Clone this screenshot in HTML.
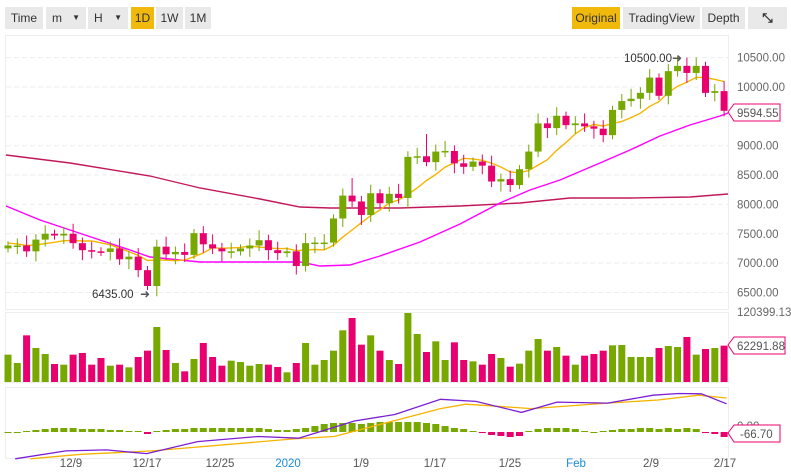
<!DOCTYPE html>
<html><head><meta charset="utf-8"><style>
body{margin:0;background:#fff;font-family:"Liberation Sans",sans-serif;}
#w{position:relative;width:791px;height:475px;overflow:hidden;background:#fff}
.b{position:absolute;top:7px;height:22px;line-height:22px;background:#e9e9e9;color:#333;font-size:12px;text-align:center}
.y{background:#f0b90b}
</style></head><body><div id="w">
<div class="b" style="left:5px;width:38px">Time</div>
<div class="b" style="left:46px;width:40px;text-align:left;padding-left:6px;box-sizing:border-box">m<span style="position:absolute;right:6px;font-size:8px">▼</span></div>
<div class="b" style="left:88px;width:40px;text-align:left;padding-left:6px;box-sizing:border-box">H<span style="position:absolute;right:6px;font-size:8px">▼</span></div>
<div class="b y" style="left:131px;width:23px">1D</div>
<div class="b" style="left:156px;width:27px">1W</div>
<div class="b" style="left:185px;width:26px">1M</div>
<div class="b y" style="left:572px;width:48px">Original</div>
<div class="b" style="left:623px;width:77px">TradingView</div>
<div class="b" style="left:702px;width:43px">Depth</div>
<div class="b" style="left:748px;width:39px;font-weight:bold;font-size:13px">⤡</div>
<svg id="s" width="791" height="475" style="position:absolute;left:0;top:0"></svg>
</div>
<script>
var C=[7300,7300,7200,7400,7500,7470,7500,7340,7220,7200,7190,7250,7065,7110,6880,6610,7280,7150,7190,7140,7510,7320,7250,7200,7200,7250,7300,7390,7220,7170,7200,6950,7340,7350,7350,7760,8150,8050,7820,8190,8020,8180,8110,8810,8820,8720,8900,8910,8700,8640,8730,8660,8390,8430,8330,8600,8900,9380,9300,9510,9350,9380,9330,9290,9180,9610,9760,9800,9900,10160,9850,10270,10360,10240,10360,9900,9930,9594];
var V=[130,155,72,110,128,158,160,130,125,160,140,163,160,168,137,118,47,116,155,180,143,95,137,163,148,152,163,158,160,167,183,155,95,160,146,118,57,20,100,72,118,146,158,5,68,122,90,146,93,146,150,160,128,140,166,157,118,83,118,107,133,160,133,128,118,102,101,137,137,137,110,104,107,77,130,113,110,103];
var H=[0,0,1,2,3,4,4,4,3,3,3,2,2,1,1,-2,1,2,3,3,4,4,4,4,4,4,4,4,3,2,2,3,4,6,8,9,9,9,8,9,10,10,10,10,10,9,8,6,4,3,1,-1,-3,-4,-5,-4,1,3,4,4,4,3,1,0,1,2,3,3,4,4,3,4,3,4,3,-1,-2,-5];
var G='#76a800',R='#e8006f',s='';
function Y(p){return 87+(10000-p)*0.0587}
function X(i){return 8+i*9.3}
// frames
s+='<rect x="5.5" y="35.5" width="723" height="274" fill="none" stroke="#eee"/>';
s+='<rect x="5.5" y="312.5" width="723" height="70" fill="none" stroke="#eee"/>';
s+='<rect x="5.5" y="387.5" width="723" height="71" fill="none" stroke="#eee"/>';
[10500,10000,9500,9000,8500,8000,7500,7000,6500].forEach(function(p){var y=Y(p);s+='<line x1="6" x2="728" y1="'+y+'" y2="'+y+'" stroke="#eee" stroke-dasharray="5,3"/>';if(p!=9500)s+='<text x="737" y="'+(y+4)+'" font-size="11.5" fill="#666">'+p.toFixed(2)+'</text>';});
// MA99
s+='<polyline fill="none" stroke="#c2185b" stroke-width="1.4" points="6,155 70,163 150,176 200,188 260,199 300,207 330,208 400,208 460,206 520,203 570,198 630,198 690,197 728,194"/>';
// MA30
s+='<polyline fill="none" stroke="#f0f" stroke-width="1.4" points="6,206 40,220 70,230 100,240 130,250 150,257 200,262 300,262 320,266 350,265 380,256 420,242 460,224 500,203 530,190 560,180 600,163 630,150 660,136 690,125 720,116 728,113"/>';
// MA7
var pts=[],pad=[7400,7380,7350,7330,7320,7310].concat(C);
for(var i=0;i<C.length;i++){var a=0;for(var k=0;k<7;k++)a+=pad[i+k];pts.push(X(i)+','+Y(a/7).toFixed(1));}
s+='<polyline fill="none" stroke="#f5b400" stroke-width="1.4" points="'+pts.join(' ')+'"/>';
// candles
for(var i=0;i<C.length;i++){var o=i?C[i-1]:7250,c=C[i],x=X(i),up=c>=o,col=up?G:R;
var hi=Math.max(o,c)+70+(i*37%5)*25,lo=Math.min(o,c)-70-(i*53%5)*25;
if(i==16)lo=6435;if(i==73)hi=10500;if(i==45)hi=9200;if(i==37)hi=8450;
s+='<line x1="'+x+'" x2="'+x+'" y1="'+Y(hi)+'" y2="'+Y(lo)+'" stroke="'+col+'"/>';
var t=Y(Math.max(o,c)),b=Y(Math.min(o,c));if(b-t<1.5)b=t+1.5;
s+='<rect x="'+(x-3.5)+'" y="'+t+'" width="7" height="'+(b-t)+'" fill="'+col+'"/>';
var vh=(212-V[i])/207*69;s+='<rect x="'+(x-3.5)+'" y="'+(382-vh)+'" width="7" height="'+vh+'" fill="'+col+'"/>';
var h=H[i]||0;s+='<rect x="'+(x-3.5)+'" y="'+(h>0?432-h:432)+'" width="7" height="'+Math.max(Math.abs(h),1)+'" fill="'+(h>=0?G:R)+'"/>';}
// annotations
s+='<text x="624" y="62" font-size="11.5" fill="#333">10500.00</text><text x="672" y="62" font-size="12" fill="#555">➜</text>';
s+='<text x="92" y="298" font-size="11.5" fill="#333">6435.00</text><text x="140" y="298" font-size="12" fill="#555">➜</text>';
// macd lines
function P(a){return a.map(function(p){return (p[0]/1.975).toFixed(1)+','+(310+p[1]/2.91).toFixed(1)}).join(' ')}
s+='<polyline fill="none" stroke="#f5b400" stroke-width="1.3" points="'+P([[60,433],[160,420],[300,410],[580,375],[660,368],[870,287],[920,274],[1050,287],[1200,271],[1300,262],[1380,248],[1435,256]])+'"/>';
s+='<polyline fill="none" stroke="#7b1fd2" stroke-width="1.3" points="'+P([[30,433],[130,410],[210,407],[290,418],[390,383],[510,368],[590,373],[700,323],[780,304],[870,260],[940,266],[1030,298],[1100,268],[1200,271],[1290,248],[1340,243],[1385,244],[1435,273]])+'"/>';
// right labels
s+='<path d="M728,112 L734,104 H780 V121 H734 Z" fill="#fff" stroke="#e8006f"/><text x="737" y="117" font-size="11.5" fill="#555">9594.55</text>';
s+='<text x="737" y="316" font-size="11.5" fill="#666">120399.13</text>';
s+='<path d="M728,345 L734,337 H785 V354 H734 Z" fill="#fff" stroke="#e8006f"/><text x="737" y="350" font-size="11.5" fill="#555">62291.88</text>';
s+='<text x="737" y="430" font-size="11.5" fill="#666">0.00</text>';
s+='<path d="M728,433 L734,425 H780 V442 H734 Z" fill="#fff" stroke="#e8006f"/><text x="740" y="438" font-size="11.5" fill="#555">-66.70</text>';
[['12/9',71,'#555'],['12/17',147,'#555'],['12/25',220,'#555'],['2020',288,'#1a8cd8'],['1/9',361,'#555'],['1/17',435,'#555'],['1/25',510,'#555'],['Feb',576,'#1a8cd8'],['2/9',651,'#555'],['2/17',725,'#555']].forEach(function(l){s+='<text x="'+l[1]+'" y="467" font-size="11.5" fill="'+l[2]+'" text-anchor="middle">'+l[0]+'</text>';});
document.getElementById('s').innerHTML=s;
</script></body></html>
